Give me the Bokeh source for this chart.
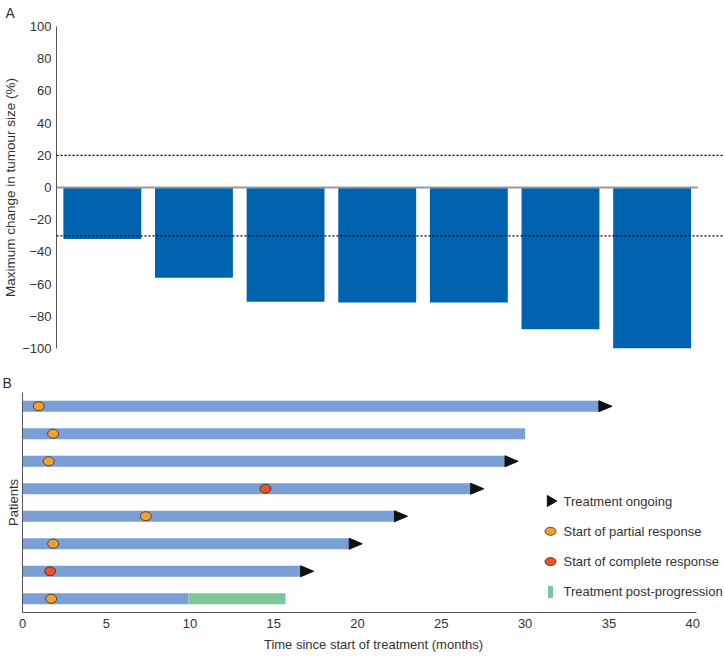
import numpy as np
from bokeh.plotting import figure
from bokeh.models import (Range1d, Span, CustomJSTickFormatter, FixedTicker)
from bokeh.core.properties import value
from bokeh.layouts import column
from bokeh.embed import file_html
from bokeh.resources import INLINE

FONT = "Liberation Sans"

# ---------------- Panel A data ----------------
patients_a = [1, 2, 3, 4, 5, 6, 7]
max_change = [-32, -56, -71, -71.5, -71.5, -88, -100]
ref_lines = [20, -30]
y_ticks_a = [-100, -80, -60, -40, -20, 0, 20, 40, 60, 80, 100]

# ---------------- Panel B data ----------------
rows = [1, 2, 3, 4, 5, 6, 7, 8]
durations = [34.4, 30.0, 28.8, 26.75, 22.2, 19.5, 16.6, 9.9]
ongoing = [True, False, True, True, True, True, True, False]
post_prog_rows = [8]
post_prog_start = [9.9]
post_prog_end = [15.7]
response_time = [0.97, 1.83, 1.57, 14.5, 7.36, 1.83, 1.65, 1.71]
response_type = ["partial", "partial", "partial", "complete",
                 "partial", "partial", "complete", "partial"]
x_ticks_b = [0, 5, 10, 15, 20, 25, 30, 35, 40]
legend_labels = ["Treatment ongoing", "Start of partial response",
                 "Start of complete response", "Treatment post-progression"]

BAR_A = "#0063B0"
BAR_B = "#7A9FD4"
GREEN = "#7DC89A"
ORANGE = "#F5A030"
RED = "#E8542A"
TEXT = "#333333"
AXIS = "#555555"
EDGE = "#3a2a1a"
FS = "13px"

# ---------------- Panel A ----------------
pa = figure(width=724, height=370, output_backend="svg", toolbar_location=None,
            x_range=Range1d(0.5, 7.79), y_range=Range1d(-100, 100),
            min_border_top=25, min_border_bottom=22, min_border_left=53,
            min_border_right=0)
pa.frame_align = False
pa.title.text = "A"
pa.title.text_font = FONT
pa.title.text_font_size = "14px"
pa.title.text_font_style = "normal"
pa.title.text_color = TEXT
pa.title.align = "left"
pa.title.vertical_align = "top"
pa.title.offset = -51
pa.title.standoff = 8

pa.vbar(x=patients_a, top=max_change, bottom=0, width=0.85,
        fill_color=BAR_A, line_color=None)
pa.segment(x0=[0.5], y0=[0], x1=[len(patients_a) + 0.5], y1=[0],
           line_color="#999999", line_width=2)
for v in ref_lines:
    pa.add_layout(Span(location=v, dimension="width", line_color="black",
                       line_dash="2 2", line_width=1.2))

pa.xaxis.visible = False
pa.grid.visible = False
pa.outline_line_color = None
pa.yaxis.ticker = FixedTicker(ticks=y_ticks_a)
pa.yaxis.formatter = CustomJSTickFormatter(
    code="return tick < 0 ? '\u2212' + (-tick) : '' + tick;")
pa.yaxis.major_tick_line_color = None
pa.yaxis.minor_tick_line_color = None
pa.yaxis.major_tick_out = 0
pa.yaxis.axis_line_color = AXIS
pa.yaxis.major_label_text_font = FONT
pa.yaxis.major_label_text_font_size = FS
pa.yaxis.major_label_text_color = TEXT
pa.yaxis.major_label_standoff = 5
pa.yaxis.axis_label = "Maximum change in tumour size (%)"
pa.yaxis.axis_label_text_font = FONT
pa.yaxis.axis_label_text_font_size = "13.5px"
pa.yaxis.axis_label_text_font_style = "normal"
pa.yaxis.axis_label_text_color = TEXT
pa.yaxis.axis_label_standoff = 1

# ---------------- Panel B ----------------
pb = figure(width=724, height=286, output_backend="svg", toolbar_location=None,
            x_range=Range1d(0, 41.9), y_range=Range1d(8.5, 0.5),
            min_border_top=22, min_border_bottom=44, min_border_left=22,
            min_border_right=0)
pb.frame_align = False
pb.title.text = "B"
pb.title.text_font = FONT
pb.title.text_font_size = "14px"
pb.title.text_font_style = "normal"
pb.title.text_color = TEXT
pb.title.align = "left"
pb.title.offset = -20
pb.title.standoff = 3

pb.hbar(y=rows, left=0, right=durations, height=0.4,
        fill_color=BAR_B, line_color=None)
pb.hbar(y=post_prog_rows, left=post_prog_start, right=post_prog_end, height=0.4,
        fill_color=GREEN, line_color=None)

arrow_len = 0.78
arrow_half = 0.2
on_end = [d for d, o in zip(durations, ongoing) if o]
on_row = [r for r, o in zip(rows, ongoing) if o]
axs = [[d, d, d + arrow_len] for d in on_end]
ays = [[r - arrow_half, r + arrow_half, r] for r in on_row]
pb.patches(xs=axs, ys=ays, fill_color="#111111", line_color="#111111")

for kind, col in (("partial", ORANGE), ("complete", RED)):
    xs = [t for t, k in zip(response_time, response_type) if k == kind]
    ys = [r for r, k in zip(rows, response_type) if k == kind]
    pb.ellipse(x=xs, y=ys, width=11, height=9, width_units="screen",
               height_units="screen", fill_color=col, line_color=EDGE,
               line_width=0.8)

# ---- key, drawn in a pixel-scaled auxiliary range (row index * spacing) ----
KEY_X0 = 550 - 22          # swatch centre, px from frame left
KEY_Y0 = 500.5 - 392       # first row, px from frame top
KEY_STEP = 30.3
pb.extra_x_ranges = {"key": Range1d(-KEY_X0, 702 - KEY_X0)}
pb.extra_y_ranges = {"key": Range1d(220 - KEY_Y0, -KEY_Y0)}
key_y = [i * KEY_STEP for i in range(len(legend_labels))]
kw = dict(x_range_name="key", y_range_name="key")
pb.scatter(x=[0], y=[key_y[0]], marker="triangle", angle=-np.pi / 2, size=11,
           fill_color="#111111", line_color="#111111", **kw)
pb.ellipse(x=[0], y=[key_y[1]], width=11, height=8, width_units="screen",
           height_units="screen", fill_color=ORANGE, line_color=EDGE,
           line_width=0.8, **kw)
pb.ellipse(x=[0], y=[key_y[2]], width=11, height=8, width_units="screen",
           height_units="screen", fill_color=RED, line_color=EDGE,
           line_width=0.8, **kw)
pb.rect(x=[0], y=[key_y[3]], width=5, height=12, width_units="screen",
        height_units="screen", fill_color=GREEN, line_color=None, **kw)
pb.text(x=[13] * len(legend_labels), y=key_y, text=legend_labels,
        text_baseline="middle", text_align="left", text_font=value(FONT),
        text_font_size=FS, text_color=TEXT, **kw)

pb.grid.visible = False
pb.outline_line_color = None
pb.xaxis.ticker = FixedTicker(ticks=x_ticks_b)
pb.xaxis.bounds = (0, 40.2)
pb.xaxis.major_tick_line_color = None
pb.xaxis.minor_tick_line_color = None
pb.xaxis.major_tick_out = 0
pb.xaxis.axis_line_color = AXIS
pb.xaxis.major_label_text_font = FONT
pb.xaxis.major_label_text_font_size = FS
pb.xaxis.major_label_text_color = TEXT
pb.xaxis.major_label_standoff = 6
pb.xaxis.axis_label = "Time since start of treatment (months)"
pb.xaxis.axis_label_text_font = FONT
pb.xaxis.axis_label_text_font_size = FS
pb.xaxis.axis_label_text_font_style = "normal"
pb.xaxis.axis_label_text_color = TEXT
pb.xaxis.axis_label_standoff = 6

pb.yaxis.ticker = FixedTicker(ticks=[])
pb.yaxis.major_tick_line_color = None
pb.yaxis.minor_tick_line_color = None
pb.yaxis.major_tick_out = 0
pb.yaxis.major_label_text_font_size = "0px"
pb.yaxis.major_label_standoff = 0
pb.yaxis.axis_line_color = AXIS
pb.yaxis.axis_label = "Patients"
pb.yaxis.axis_label_text_font = FONT
pb.yaxis.axis_label_text_font_size = FS
pb.yaxis.axis_label_text_font_style = "normal"
pb.yaxis.axis_label_text_color = TEXT
pb.yaxis.axis_label_standoff = 2

layout = column(pa, pb, spacing=0)
open("out.html", "w").write(file_html(layout, INLINE))
